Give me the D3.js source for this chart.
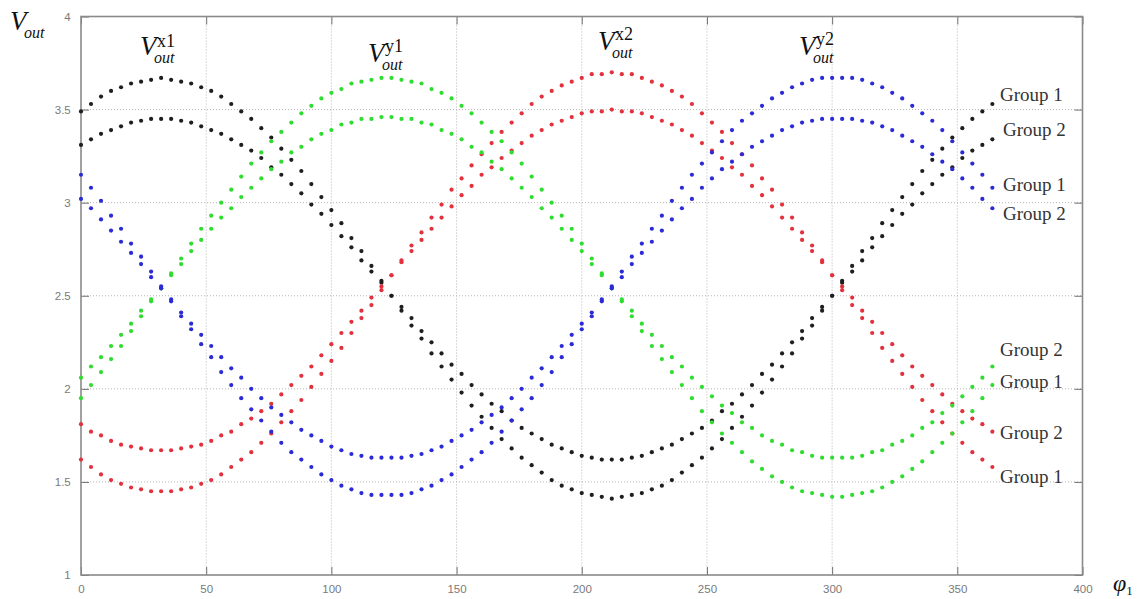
<!DOCTYPE html>
<html>
<head>
<meta charset="utf-8">
<script src="https://cdn.jsdelivr.net/npm/d3@7.9.0/dist/d3.min.js"></script>
<style>
  body { margin: 0; background: #fff; }
  .tick-label { font-family: "Liberation Sans", Arial, sans-serif; font-size: 11.5px; fill: #7a7a7a; }
  .grp { font-family: "Liberation Serif", "Times New Roman", serif; font-size: 19px; fill: #333; }
  .vlab { font-family: "Liberation Serif", "Times New Roman", serif; fill: #111; }
</style>
</head>
<body>
<div id="chart"></div>
<script>
// sampled angle (deg)
const phi = [0,4,8,12,16,20,24,28,32,36,40,44,48,52,56,60,64,68,72,76,80,84,88,92,96,100,104,108,112,116,120,124,128,132,136,140,144,148,152,156,160,164,168,172,176,180,184,188,192,196,200,204,208,212,216,220,224,228,232,236,240,244,248,252,256,260,264,268,272,276,280,284,288,292,296,300,304,308,312,316,320,324,328,332,336,340,344,348,352,356,360,364];

// V_out^x1 (black)
const blackG1 = [3.49,3.53,3.57,3.60,3.62,3.64,3.65,3.66,3.67,3.66,3.65,3.64,3.62,3.60,3.57,3.53,3.49,
  3.45,3.40,3.35,3.29,3.23,3.17,3.10,3.03,2.96,2.89,2.81,2.74,2.66,2.58,
  2.50,2.42,2.34,2.27,2.19,2.12,2.05,1.98,1.91,1.85,1.79,1.73,1.68,1.63,
  1.59,1.55,1.51,1.48,1.46,1.44,1.43,1.42,1.41,
  1.42,1.43,1.44,1.46,1.48,1.51,1.55,1.59,
  1.63,1.68,1.73,1.79,1.85,1.91,1.98,2.05,2.12,2.19,2.27,2.34,2.42,2.50,
  2.58,2.66,2.74,2.81,2.89,2.96,3.03,3.10,3.17,3.23,3.29,3.35,3.40,3.45,3.49,3.53];
const blackG2 = [3.31,3.34,3.37,3.39,3.41,3.43,3.44,3.45,3.45,3.45,3.44,3.43,3.41,3.39,3.37,3.34,3.31,
  3.28,3.24,3.19,3.15,3.10,3.05,2.99,2.94,2.88,2.82,2.76,2.69,2.63,2.57,
  2.50,2.44,2.38,2.31,2.25,2.19,2.13,2.08,2.02,1.97,1.92,1.88,1.83,1.79,
  1.76,1.73,1.70,1.68,1.66,1.64,1.63,1.62,1.62,
  1.62,1.63,1.64,1.66,1.68,1.70,1.73,1.76,
  1.79,1.83,1.88,1.92,1.97,2.02,2.08,2.13,2.19,2.25,2.31,2.38,2.44,2.50,
  2.57,2.63,2.69,2.76,2.82,2.88,2.94,2.99,3.05,3.10,3.15,3.19,3.24,3.28,3.31,3.34];

// V_out^x2 (red)
const redG1 = [1.62,1.58,1.54,1.51,1.49,1.47,1.46,1.45,1.45,1.45,1.46,1.47,1.49,1.51,1.54,1.58,1.62,
  1.66,1.71,1.76,1.82,1.88,1.94,2.01,2.08,2.15,2.22,2.30,2.38,2.45,2.53,
  2.61,2.69,2.77,2.84,2.92,2.99,3.07,3.13,3.20,3.26,3.32,3.38,3.43,3.48,
  3.53,3.57,3.60,3.63,3.65,3.67,3.69,3.69,3.70,
  3.69,3.69,3.67,3.65,3.63,3.60,3.57,3.53,
  3.48,3.43,3.38,3.32,3.26,3.20,3.13,3.07,2.99,2.92,2.84,2.77,2.69,2.61,
  2.53,2.45,2.38,2.30,2.22,2.15,2.08,2.01,1.94,1.88,1.82,1.76,1.71,1.66,1.62,1.58];
const redG2 = [1.81,1.77,1.75,1.72,1.70,1.69,1.68,1.67,1.67,1.67,1.68,1.69,1.70,1.72,1.75,1.77,1.81,
  1.84,1.88,1.92,1.97,2.02,2.07,2.12,2.18,2.24,2.30,2.36,2.42,2.49,2.55,
  2.61,2.68,2.74,2.80,2.86,2.92,2.98,3.04,3.09,3.15,3.19,3.24,3.28,3.32,
  3.36,3.39,3.42,3.44,3.46,3.48,3.49,3.49,3.50,
  3.49,3.49,3.48,3.46,3.44,3.42,3.39,3.36,
  3.32,3.28,3.24,3.19,3.15,3.09,3.04,2.98,2.92,2.86,2.80,2.74,2.68,2.61,
  2.55,2.49,2.42,2.36,2.30,2.24,2.18,2.12,2.07,2.02,1.97,1.92,1.88,1.84,1.81,1.77];

// V_out^y1 (green)
const greenG1 = [1.95,2.02,2.09,2.16,2.23,2.31,2.39,2.47,2.54,2.62,2.70,2.78,2.86,2.93,3.00,3.07,3.14,3.21,3.27,3.33,3.38,3.43,3.48,3.52,3.56,3.59,3.61,3.64,3.65,3.66,3.67,
  3.67,3.66,3.65,3.64,3.61,3.59,3.56,3.52,3.48,3.43,3.38,3.33,3.27,3.21,3.14,3.07,3.00,2.93,2.86,2.78,2.70,2.62,2.54,2.47,2.39,2.31,2.23,2.16,2.09,2.02,1.95,
  1.88,1.82,1.76,1.71,1.66,1.61,1.57,1.53,1.50,1.47,1.45,1.44,1.43,1.42,
  1.42,1.43,1.44,1.45,1.47,1.50,1.53,1.57,1.61,1.66,1.71,1.76,1.82,1.88,1.95,2.02];
const greenG2 = [2.06,2.12,2.17,2.23,2.29,2.35,2.42,2.48,2.54,2.61,2.67,2.74,2.80,2.86,2.92,2.97,3.03,3.08,3.13,3.18,3.22,3.27,3.30,3.34,3.37,3.39,3.42,3.43,3.45,3.45,3.46,
  3.46,3.45,3.45,3.43,3.42,3.39,3.37,3.34,3.30,3.27,3.22,3.18,3.13,3.08,3.03,2.97,2.92,2.86,2.80,2.74,2.67,2.61,2.54,2.48,2.42,2.35,2.29,2.23,2.17,2.12,2.06,
  2.01,1.96,1.91,1.87,1.82,1.79,1.75,1.72,1.70,1.67,1.66,1.64,1.63,1.63,
  1.63,1.63,1.64,1.66,1.67,1.70,1.72,1.75,1.79,1.82,1.87,1.91,1.96,2.01,2.06,2.12];

// V_out^y2 (blue)
const blueG1 = [3.15,3.08,3.01,2.93,2.86,2.78,2.71,2.63,2.55,2.47,2.39,2.32,2.24,2.17,2.09,2.02,1.95,1.89,1.83,1.77,1.71,1.66,1.62,1.58,1.54,1.51,1.48,1.46,1.44,1.43,1.43,
  1.43,1.43,1.44,1.46,1.48,1.51,1.54,1.58,1.62,1.66,1.71,1.77,1.83,1.89,1.95,2.02,2.09,2.17,2.24,2.32,2.39,2.47,2.55,2.63,2.71,2.78,2.86,2.93,3.01,3.08,3.15,
  3.21,3.27,3.33,3.39,3.44,3.48,3.52,3.56,3.59,3.62,3.64,3.66,3.67,3.67,
  3.67,3.67,3.66,3.64,3.62,3.59,3.56,3.52,3.48,3.44,3.39,3.33,3.27,3.21,3.15,3.08];
const blueG2 = [3.02,2.97,2.91,2.85,2.79,2.73,2.67,2.60,2.54,2.48,2.41,2.35,2.29,2.23,2.17,2.11,2.06,2.00,1.95,1.90,1.86,1.82,1.78,1.75,1.72,1.69,1.67,1.65,1.64,1.63,1.63,
  1.63,1.63,1.64,1.65,1.67,1.69,1.72,1.75,1.78,1.82,1.86,1.90,1.95,2.00,2.06,2.11,2.17,2.23,2.29,2.35,2.41,2.48,2.54,2.60,2.67,2.73,2.79,2.85,2.91,2.97,3.02,
  3.08,3.13,3.18,3.22,3.26,3.30,3.33,3.36,3.39,3.41,3.43,3.44,3.45,3.45,
  3.45,3.45,3.44,3.43,3.41,3.39,3.36,3.33,3.30,3.26,3.22,3.18,3.13,3.08,3.02,2.97];

const xTicks = [0,50,100,150,200,250,300,350,400];
const yTicks = [1,1.5,2,2.5,3,3.5,4];

const series = [
  { name: "x1 G1", color: "#1e1e1e", values: blackG1 },
  { name: "x1 G2", color: "#1e1e1e", values: blackG2 },
  { name: "x2 G1", color: "#e2303c", values: redG1 },
  { name: "x2 G2", color: "#e2303c", values: redG2 },
  { name: "y1 G1", color: "#2fdc2f", values: greenG1 },
  { name: "y1 G2", color: "#2fdc2f", values: greenG2 },
  { name: "y2 G1", color: "#2a2ad6", values: blueG1 },
  { name: "y2 G2", color: "#2a2ad6", values: blueG2 }
];

const W = 1139, H = 599;
const plot = { left: 81, right: 1082.5, top: 16.5, bottom: 575 };

const svg = d3.select("#chart").append("svg")
  .attr("width", W)
  .attr("height", H);

const x = d3.scaleLinear().domain([0, 400]).range([plot.left, plot.right]);
const y = d3.scaleLinear().domain([1, 4]).range([plot.bottom, plot.top]);

// dotted grid
const grid = svg.append("g")
  .attr("stroke", "#b5b5b5")
  .attr("stroke-width", 1)
  .attr("stroke-dasharray", "1 2");
grid.selectAll("line.vx")
  .data(xTicks.slice(1, -1))
  .join("line")
    .attr("x1", d => x(d)).attr("x2", d => x(d))
    .attr("y1", plot.top).attr("y2", plot.bottom);
grid.selectAll("line.hy")
  .data(yTicks.slice(1, -1))
  .join("line")
    .attr("x1", plot.left).attr("x2", plot.right)
    .attr("y1", d => y(d)).attr("y2", d => y(d));

// axes, matlab style ticks pointing inward
const tickLen = 8;
const fmt = d => String(d);

const gx = svg.append("g")
  .attr("transform", `translate(0,${plot.bottom})`)
  .call(d3.axisBottom(x).tickValues(xTicks).tickSizeInner(-tickLen).tickSizeOuter(0).tickPadding(tickLen + 4).tickFormat(fmt));
const gxTop = svg.append("g")
  .attr("transform", `translate(0,${plot.top})`)
  .call(d3.axisTop(x).tickValues(xTicks).tickSizeInner(-tickLen).tickSizeOuter(0).tickFormat(""));
const gy = svg.append("g")
  .attr("transform", `translate(${plot.left},0)`)
  .call(d3.axisLeft(y).tickValues(yTicks).tickSizeInner(-tickLen).tickSizeOuter(0).tickPadding(tickLen + 4).tickFormat(fmt));
const gyRight = svg.append("g")
  .attr("transform", `translate(${plot.right},0)`)
  .call(d3.axisRight(y).tickValues(yTicks).tickSizeInner(-tickLen).tickSizeOuter(0).tickFormat(""));

[gx, gxTop, gy, gyRight].forEach(g => {
  g.select(".domain").remove();
  g.selectAll(".tick line").attr("stroke", "#707070");
  g.selectAll(".tick text").attr("class", "tick-label").attr("fill", null);
});
gx.selectAll(".tick text").attr("dy", "0.55em");
gy.selectAll(".tick text").attr("dx", "0.15em");

// frame
svg.append("rect")
  .attr("x", plot.left)
  .attr("y", plot.top)
  .attr("width", plot.right - plot.left)
  .attr("height", plot.bottom - plot.top)
  .attr("fill", "none")
  .attr("stroke", "#8a8a8a")
  .attr("stroke-width", 1.6);

// dots
series.forEach(s => {
  svg.append("g")
    .attr("fill", s.color)
    .selectAll("circle")
    .data(s.values.map((v, i) => [phi[i], v]))
    .join("circle")
      .attr("cx", d => x(d[0]))
      .attr("cy", d => y(d[1]))
      .attr("r", 2.1);
});

// group labels at the right end
const groupLabels = [
  { text: "Group 1", x: 1000, y: 101 },
  { text: "Group 2", x: 1003, y: 136 },
  { text: "Group 1", x: 1003, y: 191 },
  { text: "Group 2", x: 1003, y: 220 },
  { text: "Group 2", x: 1000, y: 356 },
  { text: "Group 1", x: 1000, y: 388 },
  { text: "Group 2", x: 1000, y: 439 },
  { text: "Group 1", x: 1000, y: 483 }
];
svg.append("g")
  .selectAll("text")
  .data(groupLabels)
  .join("text")
    .attr("class", "grp")
    .attr("x", d => d.x)
    .attr("y", d => d.y)
    .text(d => d.text);

// V_out labels
function vLabel(vx, vy, sup, subDy, supDy) {
  const t = svg.append("text").attr("class", "vlab").attr("x", vx).attr("y", vy);
  t.append("tspan").attr("font-size", 27).attr("font-style", "italic").text("V");
  const subX = vx + 14;
  t.append("tspan").attr("x", subX).attr("dy", subDy)
    .attr("font-size", 16).attr("font-style", "italic").text("out");
  if (sup) {
    t.append("tspan").attr("x", subX + 3).attr("dy", supDy)
      .attr("font-size", 18).text(sup);
  }
}
vLabel(10, 30, null, 8, 0);
vLabel(140, 55, "x1", 8, -16);
vLabel(368, 62, "y1", 8, -18);
vLabel(598, 50, "x2", 8, -18);
vLabel(799, 55, "y2", 8, -18);

// horizontal axis symbol
const phiLab = svg.append("text").attr("class", "vlab").attr("x", 1113).attr("y", 591);
phiLab.append("tspan").attr("font-size", 24).attr("font-style", "italic").text("φ");
phiLab.append("tspan").attr("font-size", 13).attr("dy", 4).text("1");
</script>
</body>
</html>
